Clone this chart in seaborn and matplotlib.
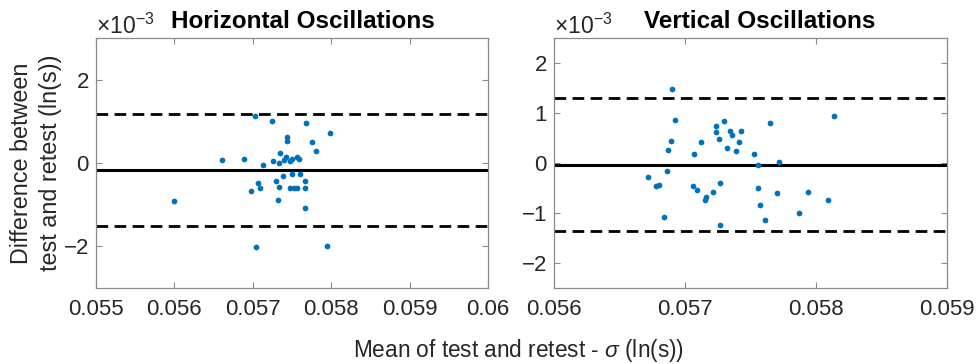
import matplotlib
matplotlib.use("Agg")
import numpy as np
import pandas as pd
import seaborn as sns
import matplotlib.pyplot as plt
from matplotlib.ticker import ScalarFormatter, FuncFormatter

# Horizontal oscillations: mean of test/retest and difference (x1e-3, ln(s))
horiz_mean = [0.05703, 0.05725, 0.05768, 0.05798, 0.05743, 0.05743, 0.05775, 0.05780,
              0.05735, 0.05661, 0.05689, 0.05726, 0.05733, 0.05740, 0.05742, 0.05748,
              0.05750, 0.05756, 0.05759, 0.05713, 0.05750, 0.05760, 0.05739, 0.05729,
              0.05767, 0.05707, 0.05733, 0.05709, 0.05698, 0.05747, 0.05753, 0.05757,
              0.05767, 0.05600, 0.05732, 0.05767, 0.05704, 0.05795]
horiz_diff_e3 = [1.14, 1.02, 0.97, 0.72, 0.62, 0.54, 0.50, 0.29,
                 0.24, 0.08, 0.10, 0.05, 0.00, 0.08, 0.15, 0.04,
                 0.10, 0.15, 0.09, -0.04, -0.27, -0.26, -0.32, -0.42,
                 -0.44, -0.48, -0.57, -0.61, -0.67, -0.61, -0.60, -0.61,
                 -0.61, -0.91, -0.89, -1.09, -2.02, -1.98]
horiz_bias_e3 = -0.176
horiz_loa_e3 = [1.18, -1.517]

# Vertical oscillations
vert_mean = [0.05690, 0.05692, 0.05689, 0.05687, 0.05686, 0.05672, 0.05678, 0.05680,
             0.05684, 0.05707, 0.05712, 0.05706, 0.05709, 0.05715, 0.05716, 0.05721,
             0.05727, 0.05727, 0.05724, 0.05724, 0.05730, 0.05726, 0.05734, 0.05736,
             0.05732, 0.05741, 0.05743, 0.05739, 0.05753, 0.05756, 0.05756, 0.05757,
             0.05761, 0.05765, 0.05772, 0.05770, 0.05787, 0.05794, 0.05809, 0.05814]
vert_diff_e3 = [1.49, 0.87, 0.45, 0.27, -0.15, -0.28, -0.46, -0.44,
                -1.08, 0.18, 0.42, -0.46, -0.54, -0.73, -0.68, -0.57,
                -0.40, -1.23, 0.74, 0.62, 0.85, 0.48, 0.65, 0.57,
                0.30, 0.42, 0.64, 0.25, 0.19, -0.04, -0.50, -0.83,
                -1.14, 0.81, 0.03, -0.60, -1.00, -0.58, -0.74, 0.94]
vert_bias_e3 = -0.03
vert_loa_e3 = [1.30, -1.36]

titles = ["Horizontal Oscillations", "Vertical Oscillations"]
horiz_xticks = [0.055, 0.056, 0.057, 0.058, 0.059, 0.06]
vert_xticks = [0.056, 0.057, 0.058, 0.059]
horiz_yticks_e3 = [-2, 0, 2]
vert_yticks_e3 = [-2, -1, 0, 1, 2]
ylabel_lines = ["Difference between", "test and retest (ln(s))"]
xlabel = r"Mean of test and retest - $\sigma$ (ln(s))"

sns.set_theme(style="white")
plt.rcParams["font.family"] = ["Liberation Sans", "DejaVu Sans"]
plt.rcParams["mathtext.fontset"] = "custom"
plt.rcParams["mathtext.rm"] = "Liberation Sans"
plt.rcParams["mathtext.it"] = "Liberation Sans:italic"
plt.rcParams["axes.unicode_minus"] = False

TEXT = "#262626"
BOX = "#8a8a8a"
DOT = "#0072BD"

W, H = 980, 364
fig = plt.figure(figsize=(W / 100, H / 100), dpi=100)
ax1 = fig.add_axes([96 / W, 76 / H, 392 / W, 250 / H])
ax2 = fig.add_axes([554 / W, 76 / H, 393 / W, 250 / H])

panels = [
    (ax1, horiz_mean, horiz_diff_e3, horiz_bias_e3, horiz_loa_e3, horiz_xticks,
     horiz_yticks_e3, (0.055, 0.06), (-3e-3, 3e-3)),
    (ax2, vert_mean, vert_diff_e3, vert_bias_e3, vert_loa_e3, vert_xticks,
     vert_yticks_e3, (0.056, 0.059), (-2.5e-3, 2.5e-3)),
]

for ax, xm, d, bias, loa, xt, yt, xl, yl in panels:
    df = pd.DataFrame({"mean": xm, "diff": np.array(d) * 1e-3})
    ax.axhline(bias * 1e-3, color="black", lw=2.2, zorder=1)
    for v in loa:
        ax.axhline(v * 1e-3, color="black", lw=2.0, ls=(0, (4.2, 2.3)), zorder=1)
    sns.scatterplot(data=df, x="mean", y="diff", ax=ax, color=DOT, s=17,
                    linewidth=0, zorder=3)
    ax.set_xlim(*xl)
    ax.set_ylim(*yl)
    ax.set_xticks(xt)
    ax.xaxis.set_major_formatter(FuncFormatter(lambda v, p: f"{v:g}"))
    ax.set_yticks(np.array(yt) * 1e-3)
    fmt = ScalarFormatter(useMathText=True)
    fmt.set_powerlimits((-3, -3))
    ax.yaxis.set_major_formatter(fmt)
    ax.tick_params(direction="in", length=4, width=0.8, color=BOX, labelsize=16,
                   labelcolor=TEXT, top=True, right=True, bottom=True, left=True)
    ax.tick_params(axis="x", pad=8)
    ax.tick_params(axis="y", pad=5)
    ax.yaxis.get_offset_text().set_fontsize(16.5)
    ax.yaxis.get_offset_text().set_color(TEXT)
    for sp in ax.spines.values():
        sp.set_visible(True)
        sp.set_color(BOX)
        sp.set_linewidth(0.9)
    ax.set_xlabel("")
    ax.set_ylabel("")
    ax.grid(False)

ax1.set_title(titles[0], fontsize=17.5, fontweight="bold", x=0.528, pad=7, color="black")
ax2.set_title(titles[1], fontsize=17.5, fontweight="bold", x=0.524, pad=7, color="black")

# two-line y label, each line placed as its own rotated text
for xpx, line in zip([21, 50], ylabel_lines):
    fig.text(xpx / W, 1 - 163 / H, line, rotation=90, ha="center", va="center",
             fontsize=16.8, color=TEXT)

fig.text(0.529, 0.038, xlabel, ha="center", va="center", fontsize=16.3, color=TEXT)

fig.savefig("out.png", dpi=100)
